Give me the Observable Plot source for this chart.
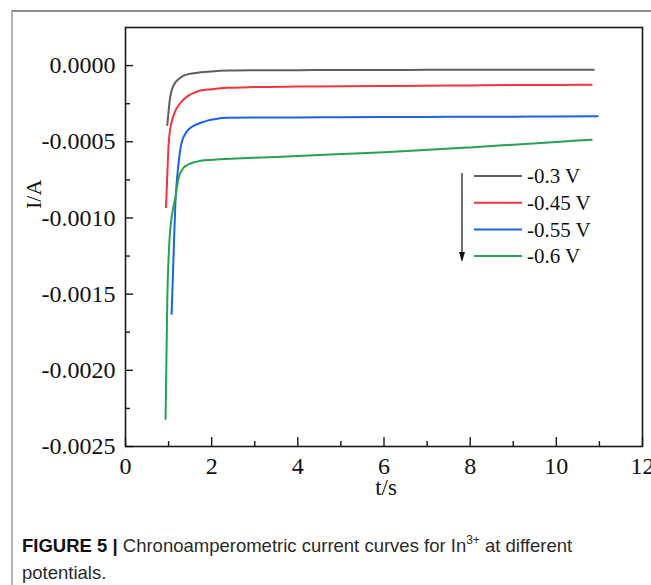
<!DOCTYPE html>
<html>
<head>
<meta charset="utf-8">
<script src="https://cdn.jsdelivr.net/npm/d3@7"></script>
<script src="https://cdn.jsdelivr.net/npm/@observablehq/plot@0.6"></script>
<style>
  html, body { margin: 0; padding: 0; background: #fff; }
  #page { position: relative; width: 651px; height: 585px; overflow: hidden; }
  #border { position: absolute; left: 11px; top: 10px; right: -5px; bottom: -5px;
            border-left: 2px solid #b4b4b4; border-top: 2px solid #8c8c8c; }
  #chart { position: absolute; left: 0; top: 0; }
  #legend { position: absolute; left: 0; top: 0; }
  #caption { position: absolute; left: 22px; top: 532px; width: 600px;
             font-family: "Liberation Sans", Arial, sans-serif; font-size: 18.5px;
             line-height: 27px; color: #2a2a2a; }
  #caption b { color: #111; }
  #caption sup { font-size: 12px; line-height: 0; vertical-align: 8px; }
</style>
</head>
<body>
<div id="page">
  <div id="border"></div>
  <div id="chart"></div>
  <svg id="legend" width="651" height="300"></svg>
  <div id="caption"><b>FIGURE 5 |</b> Chronoamperometric current curves for In<sup>3+</sup> at different potentials.</div>
</div>
<script>
// ---- data ----
const seriesNames = ["-0.3 V", "-0.45 V", "-0.55 V", "-0.6 V"];
const seriesColors = ["#5e5e5e", "#f2343a", "#1a63e2", "#27a24f"];

const tGray = [0.97, 1.0, 1.03, 1.06, 1.1, 1.16, 1.25, 1.35, 1.5, 1.74, 2.0, 2.4, 3, 4, 5, 6, 7, 8, 9, 10, 10.87];
const iGray = [-0.00039, -0.00030, -0.00022, -0.000175, -0.00014, -0.000109, -0.000085, -0.000066, -0.000054, -0.000044, -0.000038, -0.000033, -0.000031, -0.000030, -0.000029, -0.000029, -0.000028, -0.000028, -0.000028, -0.000028, -0.000027];

const tRed = [0.94, 0.97, 1.0, 1.03, 1.06, 1.1, 1.16, 1.22, 1.29, 1.38, 1.47, 1.6, 1.74, 2.0, 2.36, 3, 4, 5, 6, 7, 8, 9, 10, 10.82];
const iRed = [-0.00093, -0.00072, -0.00052, -0.00043, -0.000383, -0.00034, -0.000295, -0.000265, -0.00024, -0.000215, -0.000195, -0.000178, -0.000164, -0.000155, -0.000146, -0.000141, -0.000138, -0.000136, -0.000134, -0.000132, -0.00013, -0.000128, -0.000127, -0.000125];

const tBlue = [1.07, 1.1, 1.13, 1.16, 1.2, 1.24, 1.28, 1.33, 1.39, 1.48, 1.59, 1.75, 1.9, 2.1, 2.36, 3, 4, 5, 6, 7, 8, 9, 10, 10.96];
const iBlue = [-0.00163, -0.00138, -0.00112, -0.00089, -0.00073, -0.00062, -0.000536, -0.00048, -0.000448, -0.000415, -0.000394, -0.000375, -0.000361, -0.00035, -0.000343, -0.00034, -0.00034, -0.000339, -0.000338, -0.000337, -0.000336, -0.000335, -0.000334, -0.000333];

const tGreen = [0.93, 0.97, 1.02, 1.08, 1.16, 1.24, 1.3, 1.35, 1.45, 1.59, 1.75, 1.97, 2.44, 3, 4, 5, 6, 6.73, 8, 9, 10, 10.82];
const iGreen = [-0.00232, -0.00154, -0.00115, -0.00098, -0.00086, -0.00073, -0.00069, -0.00067, -0.00065, -0.000634, -0.000625, -0.000619, -0.000612, -0.000605, -0.000594, -0.000581, -0.000568, -0.000558, -0.000537, -0.000519, -0.000501, -0.000486];

const xMajor = [0, 2, 4, 6, 8, 10, 12];
const xMinor = [1, 3, 5, 7, 9, 11];
const yMajor = [0, -0.0005, -0.0010, -0.0015, -0.0020, -0.0025];
const yMinor = [-0.00025, -0.00075, -0.00125, -0.00175, -0.00225];
const xLabel = "t/s";
const yLabel = "I/A";

// ---- build table ----
const tSeries = [tGray, tRed, tBlue, tGreen];
const iSeries = [iGray, iRed, iBlue, iGreen];
const rows = [];
seriesNames.forEach((name, k) => {
  tSeries[k].forEach((t, j) => rows.push({series: name, t, I: iSeries[k][j]}));
});

const serif = "'Liberation Serif', 'Times New Roman', serif";
const W = 651, H = 515;

const chart = Plot.plot({
  width: W,
  height: H,
  marginLeft: 125,
  marginRight: 9,
  marginTop: 27,
  marginBottom: 69,
  style: {fontFamily: serif, background: "transparent", overflow: "visible"},
  x: {domain: [0, 12]},
  y: {domain: [-0.0025, 0.00025]},
  color: {domain: seriesNames, range: seriesColors},
  marks: [
    Plot.line(rows, {x: "t", y: "I", z: "series", stroke: "series", strokeWidth: 2, curve: "monotone-x"}),
    Plot.frame({stroke: "#1a1a1a", strokeWidth: 1.6}),
    // inward tick marks
    Plot.axisX(xMajor, {tickSize: -9, tickFormat: () => "", stroke: "#1a1a1a", strokeWidth: 1.4, label: null}),
    Plot.axisX(xMinor, {tickSize: -5, tickFormat: () => "", stroke: "#1a1a1a", strokeWidth: 1.4, label: null}),
    Plot.axisY(yMajor, {tickSize: -8, tickFormat: () => "", stroke: "#1a1a1a", strokeWidth: 1.4, label: null}),
    Plot.axisY(yMinor, {tickSize: -5, tickFormat: () => "", stroke: "#1a1a1a", strokeWidth: 1.4, label: null}),
    // tick labels
    Plot.axisX(xMajor, {tickSize: 0, tickPadding: 10, tickFormat: d => String(d), fontSize: 24, fill: "#111", label: null}),
    Plot.axisY(yMajor, {tickSize: 0, tickPadding: 10, tickFormat: d => d.toFixed(4), fontSize: 24, fill: "#111", label: null}),
    // axis titles
    Plot.text([xLabel], {text: d => d, frameAnchor: "bottom", dy: 48, dx: 2, fontSize: 23, fill: "#111"}),
    Plot.text([yLabel], {text: d => d, frameAnchor: "left", dx: -92, dy: -28, rotate: -90, fontSize: 22, fill: "#111"})
  ]
});
document.getElementById("chart").appendChild(chart);

// ---- legend ----
const lg = d3.select("#legend");
const legY0 = 176, legStep = 26.7;
lg.append("line")
  .attr("x1", 462).attr("x2", 462).attr("y1", legY0 - 3).attr("y2", legY0 + legStep * 3 + 4)
  .attr("stroke", "#111").attr("stroke-width", 1.2);
lg.append("path")
  .attr("d", `M459,${legY0 + legStep * 3 - 4} L462,${legY0 + legStep * 3 + 6} L465,${legY0 + legStep * 3 - 4} Z`)
  .attr("fill", "#111");
seriesNames.forEach((name, k) => {
  const y = legY0 + legStep * k;
  lg.append("line").attr("x1", 474).attr("x2", 522).attr("y1", y).attr("y2", y)
    .attr("stroke", seriesColors[k]).attr("stroke-width", 2);
  lg.append("text").attr("x", 527).attr("y", y).attr("dy", "0.35em")
    .attr("font-family", serif).attr("font-size", 21).attr("fill", "#111").text(name);
});
</script>
</body>
</html>
